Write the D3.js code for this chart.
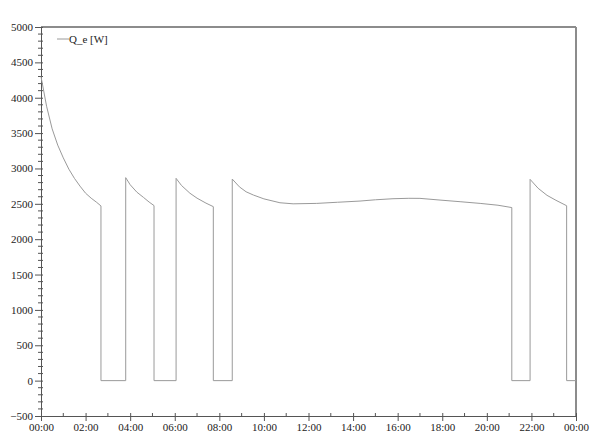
<!DOCTYPE html>
<html>
<head>
<meta charset="utf-8">
<script src="https://cdn.jsdelivr.net/npm/d3@7"></script>
<style>
  html, body { margin: 0; padding: 0; background: #fff; }
  svg { display: block; }
  text { font-family: "Liberation Serif", "Times New Roman", serif; fill: #222; }
</style>
</head>
<body>
<svg id="chart" width="600" height="440"></svg>
<script>
// ---- Data (time in hours, Q_e in W) ----
const seriesName = "Q_e [W]";
const times = [
  0, 0.25, 0.5, 0.75, 1.0, 1.25, 1.5, 1.75, 2.0, 2.25, 2.5, 2.69,
  2.69, 3.80,
  3.80, 4.0, 4.3, 4.6, 4.85, 5.07,
  5.07, 6.06,
  6.06, 6.3, 6.68, 7.0, 7.4, 7.73,
  7.73, 8.58,
  8.58, 8.9, 9.2, 9.53, 10.0, 10.72, 11.31, 12.37, 13.3, 14.31, 15.0, 15.79, 16.5, 17.0, 17.9, 18.8, 19.7, 20.5, 21.12,
  21.12, 21.94,
  21.94, 22.3, 22.7, 23.1, 23.58,
  23.58, 24
];
const values = [
  4300, 3880, 3560, 3330, 3150, 2990, 2860, 2750, 2650, 2580, 2520, 2470,
  0, 0,
  2870, 2770, 2665, 2590, 2525, 2475,
  0, 0,
  2860, 2760, 2650, 2580, 2510, 2460,
  0, 0,
  2850, 2740, 2670, 2624, 2570, 2515, 2500, 2506, 2522, 2539, 2557, 2572, 2578, 2577, 2553, 2530, 2506, 2480, 2447,
  0, 0,
  2846, 2720, 2620, 2550, 2473,
  0, 0
];
const xMajorTicks = [0, 2, 4, 6, 8, 10, 12, 14, 16, 18, 20, 22, 24];
const xMinorTicks = [1, 3, 5, 7, 9, 11, 13, 15, 17, 19, 21, 23];
const yMajorTicks = [-500, 0, 500, 1000, 1500, 2000, 2500, 3000, 3500, 4000, 4500, 5000];
const yDomain = [-500, 5000];
const xDomain = [0, 24];

(function () {
  const svg = d3.select("#chart");
  const mLeft = 41, mRight = 576, mTop = 27, mBottom = 416;

  const x = d3.scaleLinear().domain(xDomain).range([mLeft, mRight]);
  const y = d3.scaleLinear().domain(yDomain).range([mBottom, mTop]);

  const fmtTime = h => String(h % 24).padStart(2, "0") + ":00";

  // Top and right border
  svg.append("line").attr("x1", mLeft).attr("x2", mRight).attr("y1", mTop).attr("y2", mTop)
    .attr("stroke", "#8c8c8c").attr("stroke-width", 2);
  svg.append("line").attr("x1", mRight).attr("x2", mRight).attr("y1", mTop).attr("y2", mBottom)
    .attr("stroke", "#8c8c8c").attr("stroke-width", 2);

  // Y axis
  const yAxis = d3.axisLeft(y).tickValues(yMajorTicks).tickSize(6).tickFormat(d3.format("d"));
  const gy = svg.append("g").attr("transform", `translate(${mLeft},0)`).call(yAxis);
  gy.select(".domain").attr("stroke", "#555");
  gy.selectAll(".tick line").attr("stroke", "#555").attr("x2", -6).attr("x1", 2);
  gy.selectAll(".tick text").attr("x", -8).style("font-size", "11px")
    .style("font-family", '"Liberation Serif", serif').attr("fill", "#222");
  // minor y ticks
  const yMinor = d3.range(-500, 5001, 100).filter(v => v % 500 !== 0);
  svg.append("g").selectAll("line").data(yMinor).join("line")
    .attr("x1", mLeft - 3).attr("x2", mLeft + 2)
    .attr("y1", d => y(d)).attr("y2", d => y(d))
    .attr("stroke", "#555");

  // X axis
  const xAxis = d3.axisBottom(x).tickValues(xMajorTicks).tickSize(5).tickFormat(fmtTime);
  const gx = svg.append("g").attr("transform", `translate(0,${mBottom})`).call(xAxis);
  gx.select(".domain").attr("stroke", "#555");
  gx.selectAll(".tick line").attr("stroke", "#555").attr("y1", -3);
  gx.selectAll(".tick text").attr("y", 7).style("font-size", "11px")
    .style("font-family", '"Liberation Serif", serif').attr("fill", "#222");
  svg.append("g").selectAll("line").data(xMinorTicks).join("line")
    .attr("x1", d => x(d)).attr("x2", d => x(d))
    .attr("y1", mBottom - 3).attr("y2", mBottom + 1)
    .attr("stroke", "#555");

  // Series line
  const pts = times.map((t, i) => [t, values[i]]);
  const line = d3.line().x(d => x(d[0])).y(d => y(d[1])).curve(d3.curveLinear);
  svg.append("path").datum(pts).attr("d", line)
    .attr("fill", "none").attr("stroke", "#9a9a9a").attr("stroke-width", 1);

  // Legend
  svg.append("line").attr("x1", 57).attr("x2", 69).attr("y1", 39).attr("y2", 39)
    .attr("stroke", "#9a9a9a").attr("stroke-width", 1);
  svg.append("text").attr("x", 69).attr("y", 43).style("font-size", "11px").text(seriesName);
})();
</script>
</body>
</html>
